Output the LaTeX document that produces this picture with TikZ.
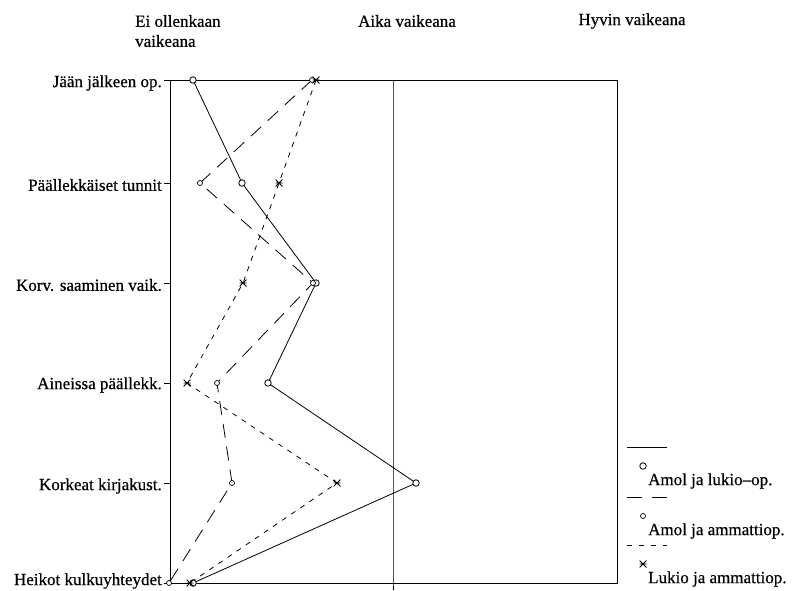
\documentclass[tikz,border=0pt]{standalone}
\usepackage{fontspec}
\setmainfont{Liberation Serif}[FakeBold=0.5]
\begin{document}
\begin{tikzpicture}[x=1pt,y=-1pt,
  every node/.style={font=\fontsize{17}{20}\selectfont, inner sep=0pt},
  axis/.style={line width=0.9pt},
  sA/.style={line width=0.8pt},
  sB/.style={line width=0.8pt, dash pattern=on 14pt off 9pt},
  sC/.style={line width=0.8pt, dash pattern=on 5pt off 6pt},
  mA/.style={circle, draw, line width=0.8pt, minimum size=6.5pt, fill=white},
  mB/.style={circle, draw, line width=0.7pt, minimum size=5pt, fill=white},
  mC/.style={minimum size=7pt, path picture={
     \draw[line width=0.8pt] (path picture bounding box.north west) -- (path picture bounding box.south east)
       (path picture bounding box.south west) -- (path picture bounding box.north east)
       (path picture bounding box.west) -- (path picture bounding box.east);}},
  rowlab/.style={anchor=east}]
\useasboundingbox (0,0) rectangle (805,590);

% frame
\coordinate (tl) at (170,80);
\coordinate (tr) at (617,80);
\coordinate (bl) at (170,583);
\coordinate (br) at (617,583);
\coordinate (tm) at (393,80);
\coordinate (bm) at (393,583);
\draw[axis] (tl) -- (tr) -- (br) -- (bl) -- cycle;
\draw[axis] (tm) -- (bm) -- ++(0,7);
\foreach \y in {80,183,283,383,483,583} \draw[axis] (170,\y) -- ++(-6,0);

% headers
\node[anchor=west, align=left] (h1) at (135,31) {Ei ollenkaan\\vaikeana};
\node (h2) at (407,21) {Aika vaikeana};
\node (h3) at (632,21) {Hyvin vaikeana};

% row labels
\node[rowlab] (r0) at (162,83) {Jään jälkeen op.};
\node[rowlab] (r1) at (162,185) {Päällekkäiset tunnit};
\node[rowlab] (r2) at (162,285) {Korv. saaminen vaik.};
\node[rowlab] (r3) at (162,385) {Aineissa päällekk.};
\node[rowlab] (r4) at (162,486) {Korkeat kirjakust.};
\node[rowlab] (r5) at (162,581) {Heikot kulkuyhteydet};

% series A (solid)
\coordinate (a0) at (193,80);
\coordinate (a1) at (242,183);
\coordinate (a2) at (316,283);
\coordinate (a3) at (268,383);
\coordinate (a4) at (416,483);
\coordinate (a5) at (193,583);
% series B (long dash)
\coordinate (b0) at (312,80);
\coordinate (b1) at (200,183);
\coordinate (b2) at (313,283);
\coordinate (b3) at (217,383);
\coordinate (b4) at (232,483);
\coordinate (b5) at (169,583);
% series C (short dash)
\coordinate (c0) at (316,80);
\coordinate (c1) at (279,183);
\coordinate (c2) at (243,283);
\coordinate (c3) at (187,383);
\coordinate (c4) at (337,483);
\coordinate (c5) at (190,583);

\draw[sA] (a0) -- (a1) -- (a2) -- (a3) -- (a4) -- (a5);
\draw[sB] (b0) -- (b1) -- (b2) -- (b3) -- (b4) -- (b5);
\draw[sC] (c0) -- (c1) -- (c2) -- (c3) -- (c4) -- (c5);

\foreach \p in {a0,a1,a2,a3,a4,a5} \node[mA] at (\p) {};
\foreach \p in {b0,b1,b2,b3,b4,b5} \node[mB] at (\p) {};
\foreach \p in {c0,c1,c2,c3,c4,c5} \node[mC] at (\p) {};

% legend
\coordinate (l1a) at (627,447); \coordinate (l1b) at (667,447);
\coordinate (l2a) at (627,497); \coordinate (l2b) at (667,497);
\coordinate (l3a) at (627,545); \coordinate (l3b) at (667,545);
\draw[sA] (l1a) -- (l1b);
\draw[line width=0.8pt, dash pattern=on 15pt off 10pt] (l2a) -- (l2b);
\draw[line width=0.8pt, dash pattern=on 5pt off 7pt] (l3a) -- (l3b);
\node[mA] (k1) at (643,466) {};
\node[mB] (k2) at (643,516) {};
\node[mC] (k3) at (643,564) {};
\node[anchor=west] (t1) at (648,481) {Amol ja lukio--op.};
\node[anchor=west] (t2) at (648,531) {Amol ja ammattiop.};
\node[anchor=west] (t3) at (648,579) {Lukio ja ammattiop.};
\end{tikzpicture}
\end{document}
